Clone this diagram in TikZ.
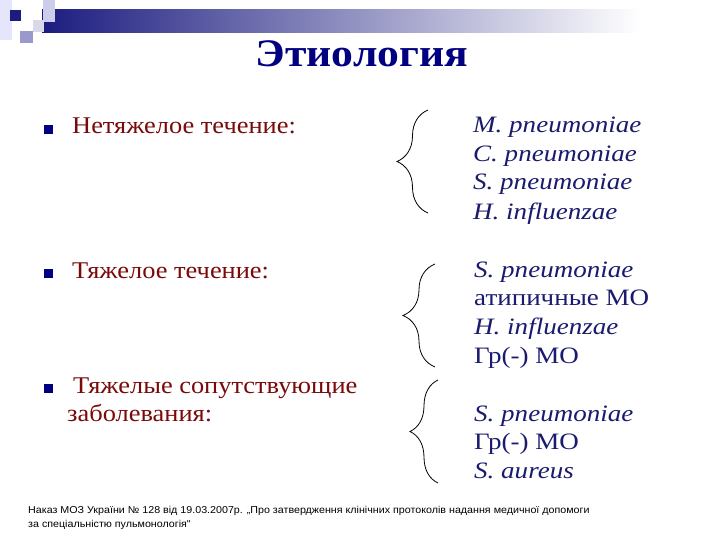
\documentclass[tikz,border=0pt]{standalone}
\usepackage{fontspec}
\setmainfont{Liberation Serif}
\newfontfamily\titlefont[FakeStretch=1.12]{Liberation Serif}
\newfontfamily\leftfont[FakeStretch=1.10]{Liberation Serif}
\newfontfamily\orgfont[FakeStretch=1.15]{Liberation Serif}
\newfontfamily\footfont[FakeStretch=1.07]{Liberation Sans}
\usetikzlibrary{positioning,decorations.pathreplacing}
\definecolor{navy}{HTML}{000080}
\definecolor{maroon}{HTML}{7A0A0A}
\definecolor{orgblue}{HTML}{1A1A6E}
\definecolor{barblue}{HTML}{1C1C80}

\begin{document}
\begin{tikzpicture}[x=1pt, y=-1pt,
    item/.style={anchor=base west, inner sep=0pt, text=maroon, font=\leftfont\fontsize{24}{28}\selectfont},
    org/.style={anchor=base west, inner sep=0pt, text=orgblue, font=\orgfont\fontsize{23.5}{28}\selectfont},
    bullet/.style={fill=navy, minimum size=8.5pt, inner sep=0pt, anchor=south east},
    brc/.style={decorate, decoration={brace, amplitude=#1}, line width=0.8pt}]
    \useasboundingbox (0,0) rectangle (720,540);
    \fill[white] (0,0) rectangle (720,540);

    % top decoration
    \shade[left color=barblue, right color=white] (42,10) rectangle (640,33);
    \fill[black!12!blue!10] (0,0) rectangle (12,40);
    \fill[blue!60!black!20] (43,0) rectangle (55,22);
    \fill[blue!40!black!15] (33,20) rectangle (44,32);
    \fill[blue!50!black!40] (20,31) rectangle (33,43);
    \fill[barblue] (10,10) rectangle (21,21);

    % title
    \node (title) [anchor=base, inner sep=0pt, text=navy, font=\titlefont\fontsize{39}{42}\bfseries] at (362,67) {Этиология};

    % left column
    \node (l1) [item] at (72,134) {Нетяжелое течение:};
    \node (l2) [item] at (72,278) {Тяжелое течение:};
    \node (l3) [item] at (73,393) {Тяжелые сопутствующие};
    \node (l31) [item] at (67,421) {заболевания:};

    \node (b1) [bullet, left=19pt of l1.base west, anchor=south east] {};
    \node (b2) [bullet, left=19pt of l2.base west, anchor=south east] {};
    \node (b3) [bullet, left=20pt of l3.base west, anchor=south east] {};

    % right column
    \node (o11) [org] at (473,133) {\textit{M. pneumoniae}};
    \node (o12) [org] at (473,162) {\textit{C. pneumoniae}};
    \node (o13) [org] at (473,190) {\textit{S. pneumoniae}};
    \node (o14) [org] at (473,219) {\textit{H. influenzae}};

    \node (o21) [org] at (474,277) {\textit{S. pneumoniae}};
    \node (o22) [org] at (474,305) {атипичные МО};
    \node (o23) [org] at (474,334) {\textit{H. influenzae}};
    \node (o24) [org] at (474,363) {Гр(-) МО};

    \node (o31) [org] at (474,421) {\textit{S. pneumoniae}};
    \node (o32) [org] at (474,449) {Гр(-) МО};
    \node (o33) [org] at (474,478) {\textit{S. aureus}};

    % braces
    \draw [brc=31pt] (428,213) -- (428,110);
    \draw [brc=32pt] (435,367) -- (435,264);
    \draw [brc=28pt] (438,483) -- (438,380);

    % footnote
    \node (f1) [anchor=base west, inner sep=0pt, font=\footfont\fontsize{10}{12}\selectfont] at (28,513) {Наказ МОЗ України № 128 від 19.03.2007р. „Про затвердження клінічних протоколів надання медичної допомоги};
    \node (f2) [anchor=base west, inner sep=0pt, font=\footfont\fontsize{10}{12}\selectfont] at (28,527) {за спеціальністю пульмонологія"};
\end{tikzpicture}
\end{document}
